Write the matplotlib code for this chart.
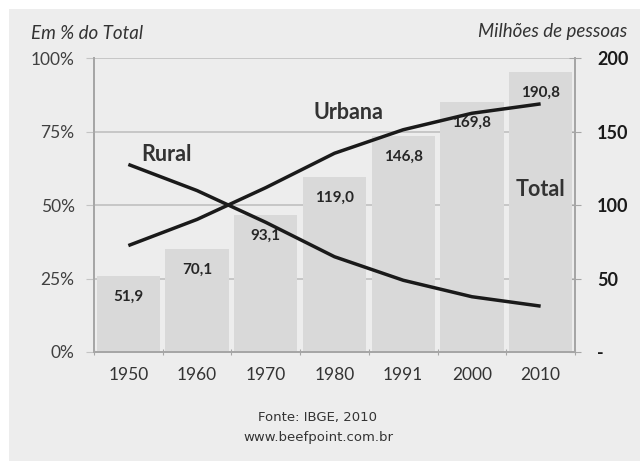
import matplotlib.pyplot as plt
from matplotlib.patches import Rectangle

# dados (IBGE)
anos = ["1950", "1960", "1970", "1980", "1991", "2000", "2010"]
total = [51.9, 70.1, 93.1, 119.0, 146.8, 169.8, 190.8]  # milhões de pessoas
urbana = [36.2, 45.1, 55.9, 67.6, 75.6, 81.2, 84.4]  # % do total
rural = [63.8, 54.9, 44.1, 32.4, 24.4, 18.8, 15.6]  # % do total
rotulos_total = ["51,9", "70,1", "93,1", "119,0", "146,8", "169,8", "190,8"]
ticks_pct = [0, 25, 50, 75, 100]
ticks_mi = [0, 50, 100, 150, 200]

plt.rcParams['font.family'] = ['Lato', 'DejaVu Sans']

fig = plt.figure(figsize=(6.4, 4.61), dpi=100)
fig.patch.set_facecolor("white")
fig.patches.append(Rectangle((9 / 640, 0), 1, 1 - 9 / 461, transform=fig.transFigure,
                             facecolor="#ededed", edgecolor="none", zorder=-10))

ax = fig.add_axes([94 / 640, 1 - 352 / 461, (575 - 94) / 640, (352 - 58) / 461])
ax2 = ax.twinx()
ax.patch.set_alpha(0)
ax2.patch.set_alpha(0)

x = range(len(anos))

# barras (milhões) no eixo da direita
ax.bar(x, total, width=0.92, color="#d9d9d9", zorder=2)
for i, v in enumerate(total):
    ax.annotate(rotulos_total[i], (i, v), xytext=(0, -15), textcoords="offset points",
                ha="center", va="center", fontsize=11, fontweight="bold", color="#262626", zorder=4)
ax.set_ylim(0, 200)
ax.set_yticks(ticks_mi)
ax.set_yticklabels(["-", "50", "100", "150", "200"], fontsize=13, fontweight="bold", color="#1a1a1a")
ax.yaxis.tick_right()
ax.yaxis.grid(True, color="#c4c4c4", linewidth=1.3, zorder=0)
ax.set_axisbelow(True)

# linhas (%) no eixo da esquerda
ax2.plot(x, urbana, color="#1a1a1a", linewidth=2.5, solid_capstyle="butt", zorder=5)
ax2.plot(x, rural, color="#1a1a1a", linewidth=2.5, solid_capstyle="butt", zorder=5)
ax2.set_ylim(0, 100)
ax2.set_yticks(ticks_pct)
ax2.set_yticklabels([f"{t}%" for t in ticks_pct], fontsize=12.5, color="#404040")
ax2.yaxis.tick_left()

ax.set_xlim(-0.5, len(anos) - 0.5)
ax.set_xticks([i - 0.5 for i in range(len(anos) + 1)])
ax.set_xticklabels([])
ax.set_xticks(list(x), minor=True)
ax.set_xticklabels(anos, minor=True, fontsize=12.5, color="#333333")
ax.tick_params(axis="x", which="minor", length=0, pad=11)
ax.tick_params(axis="x", which="major", length=5, color="#a6a6a6", direction="inout")
ax.tick_params(axis="y", length=8, color="#a6a6a6", direction="inout", pad=12)
ax2.tick_params(axis="y", length=6, color="#c4c4c4", direction="out", pad=8)

for a in (ax, ax2):
    a.spines["top"].set_visible(False)
    for s in ("left", "right", "bottom"):
        a.spines[s].set_color("#a6a6a6")
        a.spines[s].set_linewidth(1.3)

# rótulos das séries
ax2.text(0.56, 67.3, "Rural", ha="center", va="center", fontsize=15.5, fontweight="bold", color="#333333")
ax2.text(3.21, 81.6, "Urbana", ha="center", va="center", fontsize=15.5, fontweight="bold", color="#333333")
ax2.text(6.0, 55.4, "Total", ha="center", va="center", fontsize=15.5, fontweight="bold", color="#333333")

fig.text(31 / 640, 1 - 33 / 461, "Em % do Total", fontsize=13.5, style="italic", color="#333333",
         ha="left", va="center")
fig.text(627 / 640, 1 - 32 / 461, "Milhões de pessoas", fontsize=13.5, style="italic", color="#333333",
         ha="right", va="center")

fig.text(318 / 640, 1 - 417 / 461, "Fonte: IBGE, 2010", fontsize=9.5, color="#333333",
         family="DejaVu Sans", ha="center", va="center")
fig.text(318 / 640, 1 - 437 / 461, "www.beefpoint.com.br", fontsize=9.5, color="#333333",
         family="DejaVu Sans", ha="center", va="center")

fig.savefig("out.png", dpi=100)
